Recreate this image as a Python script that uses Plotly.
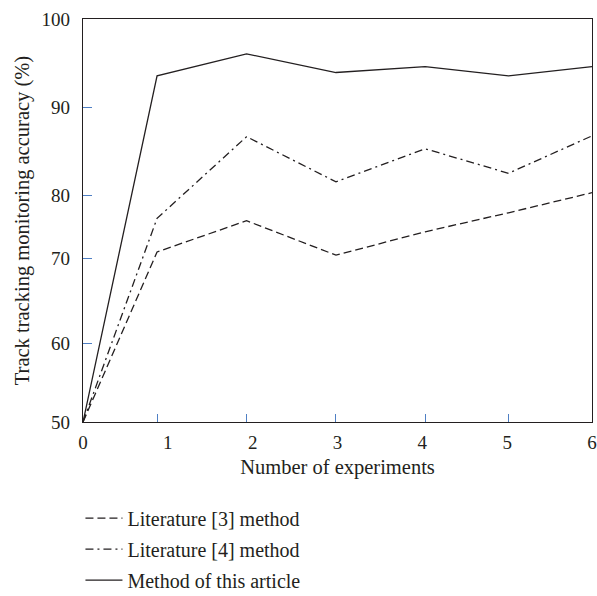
import plotly.graph_objects as go

# Data
x_points = [0, 0.873, 1.928, 2.982, 4.033, 5.016, 6]
lit3 = [50, 71.1, 74.97, 70.7, 73.6, 75.96, 78.45]
lit4 = [50, 75.27, 85.4, 79.8, 83.9, 80.86, 85.5]
ours = [50, 92.94, 95.68, 93.36, 94.1, 92.94, 94.1]
names = ["Literature [3] method", "Literature [4] method", "Method of this article"]

x_label_vals = [0, 1, 2, 3, 4, 5, 6]
x_label_text = ["0", "1", "2", "3", "4", "5", "6"]
y_tick_vals = [50, 59.74, 70.25, 78.16, 89.06, 100]
y_tick_text = ["50", "60", "70", "80", "90", "100"]

FONT = "Liberation Serif"
INK = "#231f20"
BLUE = "#4f7fc4"

fig = go.Figure()
dashes = ["8px,4px", "8px,4px,2px,4px", "solid"]
for i, (name, ys) in enumerate(zip(names, [lit3, lit4, ours])):
    fig.add_trace(go.Scatter(
        x=x_points, y=ys, mode="lines", name=name,
        legendgroup=f"g{i}",
        line=dict(color=INK, width=1.3, dash=dashes[i]),
    ))

# invisible trace to carry the label axis
fig.add_trace(go.Scatter(x=[0, 6], y=[50, 50], xaxis="x2", mode="lines",
                         line=dict(width=0), showlegend=False, hoverinfo="skip"))

fig.update_layout(
    width=597, height=596,
    margin=dict(l=83, r=5, t=19, b=174, autoexpand=False),
    paper_bgcolor="white", plot_bgcolor="white",
    font=dict(family=FONT, color=INK, size=19),
    showlegend=True,
    legend=dict(
        x=-0.005, y=-0.19, xanchor="left", yanchor="top",
        font=dict(family=FONT, size=20, color=INK),
        traceorder="grouped", tracegroupgap=2, itemwidth=37,
        bgcolor="rgba(0,0,0,0)",
    ),
    xaxis=dict(
        range=[0, 6], tickvals=x_points[1:], showticklabels=False,
        ticks="inside", ticklen=8, tickcolor=BLUE, tickwidth=1.3,
        showline=True, linecolor=INK, linewidth=1.3, mirror=True,
        showgrid=False, zeroline=False,
    ),
    xaxis2=dict(
        range=[0, 6], overlaying="x", anchor="y", side="bottom",
        tickvals=x_label_vals, ticktext=x_label_text, ticks="",
        ticklabelstandoff=7,
        tickfont=dict(family=FONT, size=19, color=INK),
        showline=False, showgrid=False, zeroline=False,
        title=dict(text="Number of experiments", standoff=7,
                   font=dict(family=FONT, size=20.5, color=INK)),
    ),
    yaxis=dict(
        range=[50, 100], tickvals=y_tick_vals, ticktext=y_tick_text,
        ticks="inside", ticklen=9, tickcolor=BLUE, tickwidth=1.3,
        ticklabelstandoff=8,
        tickfont=dict(family=FONT, size=19, color=INK),
        showline=True, linecolor=INK, linewidth=1.3, mirror=True,
        showgrid=False, zeroline=False,
        title=dict(text="Track tracking monitoring accuracy (%)", standoff=6,
                   font=dict(family=FONT, size=20.5, color=INK)),
    ),
)

fig.write_html("out.html")
